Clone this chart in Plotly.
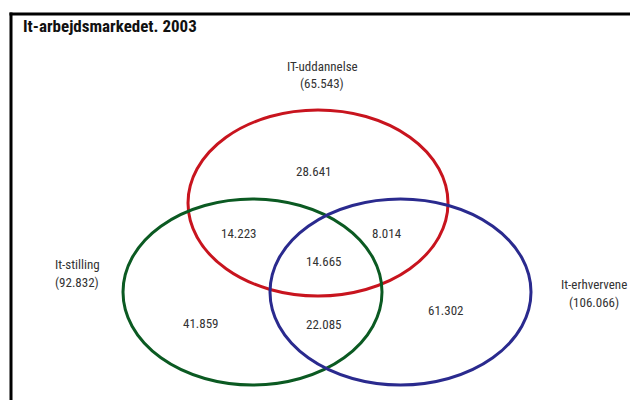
import plotly.graph_objects as go

title = "It-arbejdsmarkedet. 2003"
set_names = ["IT-uddannelse", "It-stilling", "It-erhvervene"]
set_totals = ["65.543", "92.832", "106.066"]
region_labels = ["28.641", "14.223", "8.014", "14.665", "41.859", "22.085", "61.302"]

# geometry (pixel space of 630x400 canvas)
ellipses = [  # cx, cy, rx, ry, color
    (318, 203, 130, 93, "#c8141e"),
    (252.5, 292, 129.5, 93, "#0b5a22"),
    (400.5, 292, 130.5, 93, "#2a2a8e"),
]
set_label_pos = [(322, 66, 83), (77, 264, 282), (594, 284, 302)]
region_pos = [(314, 171), (239, 233), (387, 233), (324, 261), (201, 323), (324, 324), (446, 310)]

FONT = "Liberation Sans Narrow, Roboto Condensed, Arial Narrow, Liberation Sans, sans-serif"

fig = go.Figure()
shapes = []
for cx, cy, rx, ry, col in ellipses:
    shapes.append(dict(type="circle", xref="x", yref="y",
                       x0=cx - rx, x1=cx + rx, y0=cy - ry, y1=cy + ry,
                       line=dict(color=col, width=3)))
# frame lines
shapes.append(dict(type="line", xref="x", yref="y", x0=9.5, x1=630, y0=14, y1=14,
                   line=dict(color="black", width=3)))
shapes.append(dict(type="line", xref="x", yref="y", x0=11, x1=11, y0=12.5, y1=400,
                   line=dict(color="black", width=3)))

annotations = []
annotations.append(dict(x=21, y=26, xref="x", yref="y", text="<b>" + title + "</b>",
                        showarrow=False, xanchor="left", yanchor="middle",
                        font=dict(family=FONT, size=17, color="#111")))
for name, tot, (x, y1, y2) in zip(set_names, set_totals, set_label_pos):
    annotations.append(dict(x=x, y=y1, xref="x", yref="y", text=name, showarrow=False,
                            xanchor="center", yanchor="middle",
                            font=dict(family=FONT, size=13, color="#333")))
    annotations.append(dict(x=x, y=y2, xref="x", yref="y", text="(" + tot + ")", showarrow=False,
                            xanchor="center", yanchor="middle",
                            font=dict(family=FONT, size=13, color="#333")))
for lab, (x, y) in zip(region_labels, region_pos):
    annotations.append(dict(x=x, y=y, xref="x", yref="y", text=lab, showarrow=False,
                            xanchor="center", yanchor="middle",
                            font=dict(family=FONT, size=13, color="#333")))

fig.update_layout(
    width=630, height=400,
    margin=dict(l=0, r=0, t=0, b=0),
    paper_bgcolor="white", plot_bgcolor="white",
    xaxis=dict(range=[0, 630], visible=False, fixedrange=True),
    yaxis=dict(range=[400, 0], visible=False, fixedrange=True),
    shapes=shapes, annotations=annotations, showlegend=False,
)
fig.write_html("out.html", config={"displayModeBar": False},
               post_script="document.body.style.margin='0';document.body.style.padding='0';document.body.style.overflow='hidden';")
